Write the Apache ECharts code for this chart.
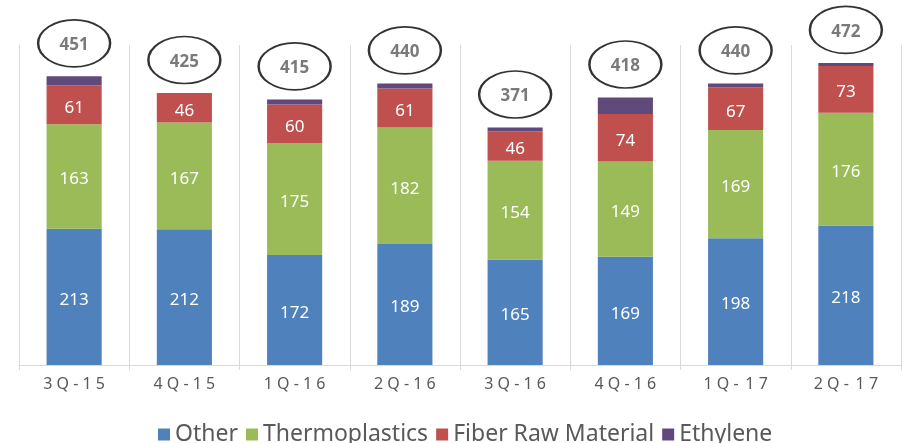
<!DOCTYPE html>
<html>
<head>
<meta charset="utf-8">
<script src="https://cdn.jsdelivr.net/npm/echarts@6/dist/echarts.min.js"></script>
<style>
  html, body { margin: 0; padding: 0; background: #fff; }
  #chart { width: 904px; height: 443px; }
</style>
</head>
<body>
<div id="chart"></div>
<script>
const quarters = ['3Q-15', '4Q-15', '1Q-16', '2Q-16', '3Q-16', '4Q-16', '1Q- 17', '2Q- 17'];
const other = [213, 212, 172, 189, 165, 169, 198, 218];
const thermoplastics = [163, 167, 175, 182, 154, 149, 169, 176];
const fiberRaw = [61, 46, 60, 61, 46, 74, 67, 73];
const ethylene = [14, 0, 8, 8, 6, 26, 6, 5];
const totals = [451, 425, 415, 440, 371, 418, 440, 472];

const chart = echarts.init(document.getElementById('chart'));

// label inside each stacked segment
const innerLabel = {
  show: true,
  position: 'inside',
  color: '#fff',
  fontSize: 17,
  fontFamily: 'Noto Sans',
  offset: [0, 3]
};

function barSeries(name, data, color, label) {
  return {
    name: name,
    type: 'bar',
    stack: 'total',
    barWidth: '50%',
    data: data,
    itemStyle: { color: color },
    label: label ? innerLabel : { show: false }
  };
}

// spread the quarter labels out like the original
function spaced(v) {
  return v.split('').join(' ').replace('   ', ' \u2009');
}

chart.setOption({
  animation: false,
  textStyle: { fontFamily: 'Noto Sans' },
  grid: { left: 19, right: 3, top: 45, bottom: 78 },
  legend: {
    bottom: -8,
    left: 153,
    itemWidth: 12,
    itemHeight: 12,
    itemGap: 8,
    icon: 'rect',
    data: ['Other', 'Thermoplastics', 'Fiber Raw Material', 'Ethylene'],
    textStyle: { color: '#595959', fontSize: 23 }
  },
  xAxis: {
    type: 'category',
    data: quarters,
    axisLine: { lineStyle: { color: '#d9d9d9' } },
    axisTick: { show: true, length: 5, lineStyle: { color: '#d9d9d9' } },
    splitLine: { show: true, lineStyle: { color: '#d9d9d9' } },
    axisLabel: {
      color: '#595959',
      fontSize: 16,
      margin: 11,
      formatter: spaced
    }
  },
  yAxis: {
    type: 'value',
    min: 0,
    max: 500,
    show: false,
    splitLine: { show: false }
  },
  series: [
    barSeries('Other', other, '#4f81bd', true),
    barSeries('Thermoplastics', thermoplastics, '#9bbb59', true),
    barSeries('Fiber Raw Material', fiberRaw, '#c0504d', true),
    barSeries('Ethylene', ethylene, '#604a7b', false),
    {
      name: 'Total',
      type: 'scatter',
      data: totals,
      clip: false,
      z: 10,
      symbol: 'circle',
      symbolSize: [72, 47],
      symbolOffset: [0, -33],
      itemStyle: { color: '#fff', borderColor: '#000', borderWidth: 2 },
      label: {
        show: true,
        position: 'inside',
        color: '#595959',
        fontSize: 17,
        fontWeight: 'bold',
        offset: [0, 2],
        formatter: '{c}'
      },
      emphasis: { disabled: true }
    }
  ]
});
</script>
</body>
</html>
